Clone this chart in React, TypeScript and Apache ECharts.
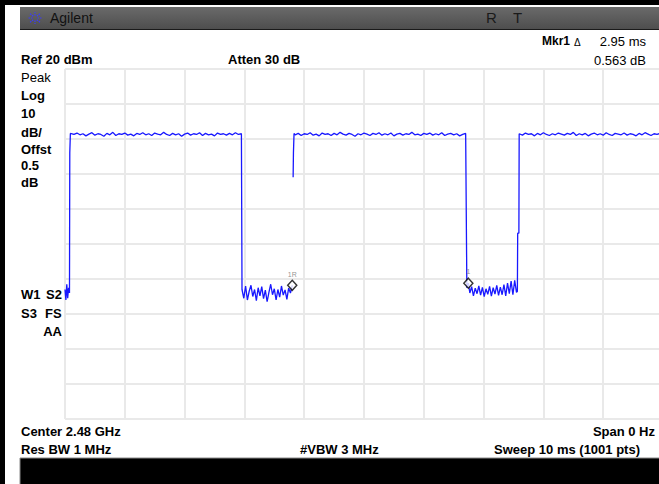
import React, { useEffect, useRef } from "react";
import * as echarts from "echarts";

// Time axis: 0..10 ms (1 ms/div), amplitude: Ref 20 dBm, 10 dB/div
const xTicks = [0, 1, 2, 3, 4, 5, 6, 7, 8, 9, 10];
const yTicks = [20, 10, 0, -10, -20, -30, -40, -50, -60, -70, -80];

// trace segments [time ms, level dBm]
const lowStart: [number, number][] = [
  [0.0, -43.0], [0.015, -46.0], [0.03, -41.5], [0.045, -45.5], [0.06, -42.5], [0.075, -44.0],
  [0.08, -4.0], [0.09, 1.6],
];
const highA: [number, number][] = [
  [0.1, 1.6], [0.15, 1.3], [0.2, 1.7], [0.25, 1.2], [0.3, 1.5], [0.35, 0.9], [0.4, 1.4], [0.45, 1.8],
  [0.5, 1.1], [0.55, 1.5], [0.6, 1.3], [0.65, 0.8], [0.7, 1.6], [0.75, 1.2], [0.8, 1.9], [0.85, 1.0],
  [0.9, 1.5], [0.95, 1.3], [1.0, 1.7], [1.05, 1.1], [1.1, 1.4], [1.15, 0.9], [1.2, 1.6], [1.25, 1.3],
  [1.3, 1.8], [1.35, 1.2], [1.4, 1.5], [1.45, 1.0], [1.5, 1.7], [1.55, 1.4], [1.6, 1.2], [1.65, 1.9],
  [1.7, 1.3], [1.75, 1.0], [1.8, 1.6], [1.85, 1.2], [1.9, 1.5], [1.95, 0.8], [2.0, 1.4], [2.05, 1.7],
  [2.1, 1.1], [2.15, 1.5], [2.2, 1.3], [2.25, 1.8], [2.3, 1.0], [2.35, 1.6], [2.4, 1.2], [2.45, 1.4],
  [2.5, 0.9], [2.55, 1.7], [2.6, 1.3], [2.65, 1.5], [2.7, 1.1], [2.75, 1.6], [2.8, 1.2], [2.85, 1.8],
  [2.9, 1.3], [2.95, 1.5],
];
const lowB: [number, number][] = [
  [2.96, -43.0], [2.99, -45.5], [3.02, -42.0], [3.05, -46.0], [3.08, -43.5], [3.11, -41.8], [3.14, -45.0],
  [3.17, -43.0], [3.2, -46.2], [3.23, -42.5], [3.26, -44.8], [3.29, -42.2], [3.32, -45.6], [3.35, -43.2],
  [3.38, -46.5], [3.41, -43.8], [3.44, -41.5], [3.47, -44.5], [3.5, -42.8], [3.53, -46.0], [3.56, -43.0],
  [3.59, -45.2], [3.62, -42.0], [3.65, -44.6], [3.68, -43.1], [3.71, -45.8], [3.74, -42.6], [3.77, -44.0],
  [3.8, -41.8],
];
const gap: [number, null][] = [[3.81, null]];
const highB: [number, number][] = [
  [3.815, -10.9], [3.82, -4.0], [3.83, 1.6],
  [3.85, 1.2], [3.9, 1.6], [3.95, 1.0], [4.0, 1.5], [4.05, 1.3], [4.1, 1.8], [4.15, 1.1], [4.2, 1.4],
  [4.25, 0.9], [4.3, 1.7], [4.35, 1.3], [4.4, 1.5], [4.45, 1.0], [4.5, 1.6], [4.55, 1.2], [4.6, 1.9],
  [4.65, 1.4], [4.7, 1.1], [4.75, 1.6], [4.8, 1.3], [4.85, 0.8], [4.9, 1.5], [4.95, 1.2], [5.0, 1.7],
  [5.05, 1.4], [5.1, 1.0], [5.15, 1.6], [5.2, 1.3], [5.25, 1.8], [5.3, 1.1], [5.35, 1.5], [5.4, 1.2],
  [5.45, 1.7], [5.5, 0.9], [5.55, 1.4], [5.6, 1.6], [5.65, 1.1], [5.7, 1.5], [5.75, 1.3], [5.8, 1.9],
  [5.85, 1.2], [5.9, 1.4], [5.95, 1.0], [6.0, 1.6], [6.05, 1.3], [6.1, 1.7], [6.15, 1.1], [6.2, 1.5],
  [6.25, 1.2], [6.3, 1.8], [6.35, 1.0], [6.4, 1.4], [6.45, 1.6], [6.5, 1.2], [6.55, 1.5], [6.6, 0.9],
  [6.65, 1.3], [6.7, 1.6],
];
const lowC: [number, number][] = [
  [6.72, -42.5], [6.745, -41.2], [6.77, -44.0], [6.8, -42.2], [6.83, -44.8], [6.86, -42.6], [6.89, -44.2],
  [6.92, -42.0], [6.95, -44.6], [6.98, -42.4], [7.01, -45.0], [7.04, -42.8], [7.07, -44.4], [7.1, -42.1],
  [7.13, -44.9], [7.16, -42.5], [7.19, -44.3], [7.22, -41.8], [7.25, -44.7], [7.28, -42.3], [7.31, -44.5],
  [7.34, -41.6], [7.37, -44.8], [7.4, -41.2], [7.43, -44.2], [7.46, -40.6], [7.49, -44.5], [7.52, -40.4],
  [7.55, -43.8], [7.565, -43.5], [7.57, -26.9], [7.59, -26.9], [7.595, 1.5],
];
const highC: [number, number][] = [
  [7.6, 1.4], [7.65, 1.1], [7.7, 1.7], [7.75, 1.3], [7.8, 1.5], [7.85, 0.9], [7.9, 1.6], [7.95, 1.2],
  [8.0, 1.8], [8.05, 1.3], [8.1, 1.0], [8.15, 1.5], [8.2, 1.2], [8.25, 1.7], [8.3, 1.4], [8.35, 1.1],
  [8.4, 1.6], [8.45, 1.3], [8.5, 1.9], [8.55, 1.0], [8.6, 1.5], [8.65, 1.2], [8.7, 1.6], [8.75, 0.9],
  [8.8, 1.4], [8.85, 1.7], [8.9, 1.2], [8.95, 1.5], [9.0, 1.1], [9.05, 1.8], [9.1, 1.3], [9.15, 1.0],
  [9.2, 1.6], [9.25, 1.4], [9.3, 1.2], [9.35, 1.7], [9.4, 1.1], [9.45, 1.5], [9.5, 1.3], [9.55, 0.9],
  [9.6, 1.6], [9.65, 1.2], [9.7, 1.8], [9.75, 1.4], [9.8, 1.0], [9.85, 1.5], [9.9, 1.3], [9.95, 1.6],
  [10.0, 1.2],
];

const markerNames = ["1R", "1"];
const markerTimes = [3.8, 6.745];
const markerLevels = [-41.8, -41.2];

const FONT = "'Liberation Sans', Arial, sans-serif";

function txt(text: string, x: number, y: number, o: any = {}) {
  return {
    type: "text",
    x,
    y,
    silent: true,
    style: {
      text,
      fill: o.fill || "#000",
      fontFamily: FONT,
      fontSize: o.size || 13,
      fontWeight: o.weight || "bold",
      align: o.align || "left",
      verticalAlign: "middle",
    },
  };
}

export default function App() {
  const ref = useRef<HTMLDivElement>(null);
  useEffect(() => {
    if (!ref.current) return;
    const chart = echarts.init(ref.current, null, { renderer: "svg" });
    const trace = [...lowStart, ...highA, ...lowB, ...gap, ...highB, ...lowC, ...highC];
    const markers = markerNames.map((n, i) => ({ name: n, value: [markerTimes[i], markerLevels[i]] }));

    const logoLines: any[] = [];
    const cx = 35, cy = 18;
    for (let k = 0; k < 8; k++) {
      const a = (k * Math.PI) / 4;
      logoLines.push({
        type: "line",
        silent: true,
        shape: { x1: cx + Math.cos(a) * 2.5, y1: cy + Math.sin(a) * 2.5, x2: cx + Math.cos(a) * 7, y2: cy + Math.sin(a) * 6 },
        style: { stroke: "#3a3aff", lineWidth: 1.2, lineDash: [1.5, 1] },
      });
    }

    chart.setOption({
      animation: false,
      backgroundColor: "#fff",
      grid: { left: 65, top: 69, width: 598, height: 350, containLabel: false },
      xAxis: {
        type: "value",
        min: xTicks[0],
        max: xTicks[xTicks.length - 1],
        interval: 1,
        axisLine: { show: false },
        axisTick: { show: false },
        axisLabel: { show: false },
        splitLine: { show: true, lineStyle: { color: "#e9e9e9", width: 2 } },
      },
      yAxis: {
        type: "value",
        min: yTicks[yTicks.length - 1],
        max: yTicks[0],
        interval: 10,
        axisLine: { show: false },
        axisTick: { show: false },
        axisLabel: { show: false },
        splitLine: { show: true, lineStyle: { color: "#e9e9e9", width: 2 } },
      },
      series: [
        {
          type: "line",
          data: trace,
          showSymbol: false,
          symbol: "none",
          connectNulls: false,
          lineStyle: { color: "#1818ff", width: 1.3 },
          z: 3,
        },
        {
          type: "scatter",
          data: markers,
          symbol: "diamond",
          symbolSize: [9, 10],
          itemStyle: { color: "#fff", borderColor: "#000", borderWidth: 1.5 },
          label: {
            show: true,
            position: "top",
            distance: 2,
            formatter: (p: any) => p.name,
            fontSize: 7,
            fontFamily: FONT,
            color: "#777",
          },
          z: 4,
        },
      ],
      graphic: [
        // frame
        { type: "rect", silent: true, shape: { x: 0, y: 0, width: 680, height: 5 }, style: { fill: "#000" } },
        { type: "rect", silent: true, shape: { x: 0, y: 0, width: 5, height: 484 }, style: { fill: "#000" } },
        // header
        {
          type: "rect",
          silent: true,
          shape: { x: 20, y: 7, width: 660, height: 22 },
          style: {
            fill: new echarts.graphic.LinearGradient(0, 0, 0, 1, [
              { offset: 0, color: "#6a6a6a" },
              { offset: 1, color: "#4e4e4e" },
            ]),
          },
        },
        { type: "line", silent: true, shape: { x1: 20, y1: 29.5, x2: 680, y2: 29.5 }, style: { stroke: "#1a1a1a", lineWidth: 1 } },
        ...logoLines,
        txt("Agilent", 50, 18, { weight: "normal", size: 14, fill: "#111" }),
        txt("R", 486, 17, { weight: "normal", size: 15, fill: "#1a1a1a" }),
        txt("T", 513, 17, { weight: "normal", size: 15, fill: "#1a1a1a" }),
        // top annotations
        txt("Ref 20 dBm", 21, 59),
        txt("Atten 30 dB", 228, 59),
        txt("Mkr1", 542, 41, { size: 12 }),
        txt("\u0394", 574, 42, { weight: "normal", size: 10 }),
        txt("2.95 ms", 646, 41, { weight: "normal", align: "right" }),
        txt("0.563 dB", 646, 60, { weight: "normal", align: "right" }),
        // left annotations
        txt("Peak", 21, 77, { weight: "normal" }),
        txt("Log", 21, 95),
        txt("10", 21, 113),
        txt("dB/", 21, 132),
        txt("Offst", 21, 149),
        txt("0.5", 21, 165),
        txt("dB", 21, 182),
        txt("W1", 21, 294),
        txt("S2", 46, 294),
        txt("S3", 21, 313),
        txt("FS", 45, 313),
        txt("AA", 62, 331, { align: "right" }),
        // bottom annotations
        txt("Center 2.48 GHz", 21, 431),
        txt("Span 0 Hz", 655, 431, { align: "right" }),
        txt("Res BW 1 MHz", 21, 449),
        txt("#VBW 3 MHz", 300, 449),
        txt("Sweep 10 ms (1001 pts)", 640, 449, { align: "right" }),
        // bottom bar
        { type: "rect", silent: true, shape: { x: 20, y: 458, width: 660, height: 27 }, style: { fill: "#000", stroke: "#8a8a8a", lineWidth: 1 } },
      ],
    });
    return () => chart.dispose();
  }, []);
  return (
    <div style={{ position: "fixed", left: 0, top: 0, width: 659, height: 484, overflow: "hidden", background: "#fff" }}>
      <div ref={ref} style={{ width: 680, height: 484 }} />
    </div>
  );
}
